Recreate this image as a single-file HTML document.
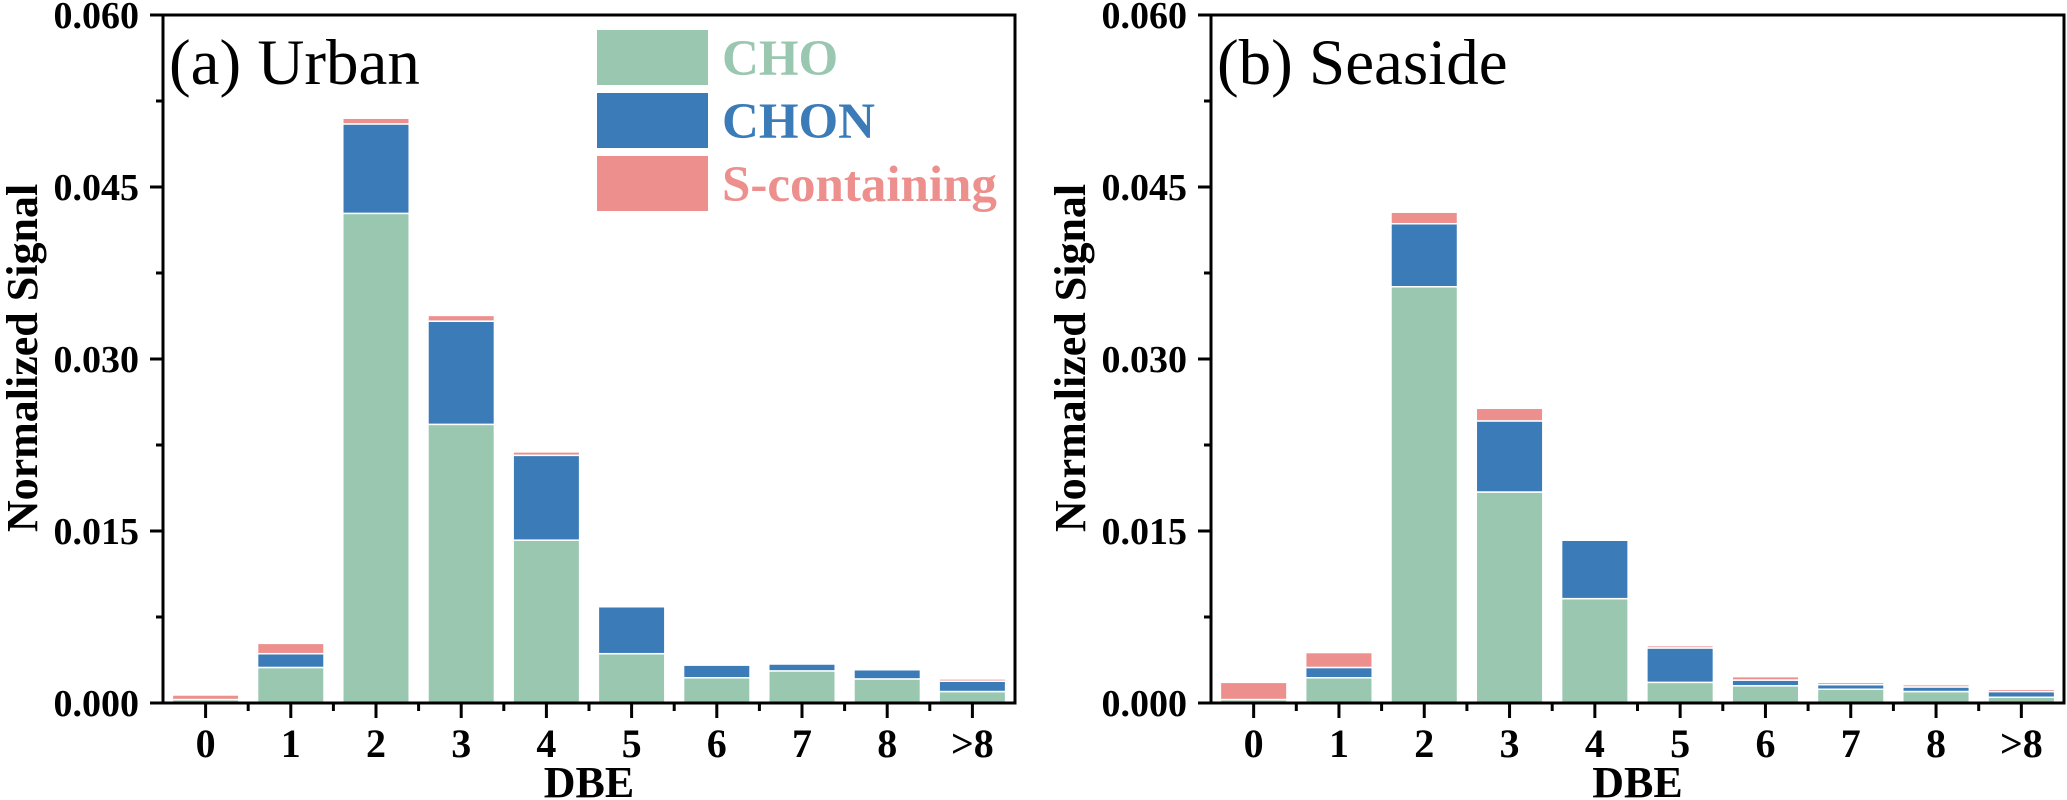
<!DOCTYPE html>
<html><head><meta charset="utf-8"><style>
html,body{margin:0;padding:0;background:#fff;}
svg{display:block;}
svg text{font-family:"Liberation Serif",serif;}
</style></head><body>
<svg id="chart" width="2067" height="800" viewBox="0 0 2067 800" xmlns="http://www.w3.org/2000/svg"></svg>
<script>
const categories = ["0","1","2","3","4","5","6","7","8",">8"];
const yTicks = [0, 0.015, 0.030, 0.045, 0.060];
const yTickLabels = ["0.000","0.015","0.030","0.045","0.060"];
const urbanCHO  = [0.0003,0.0031,0.0427,0.0243,0.0142,0.0043,0.0022,0.0028,0.0021,0.0010];
const urbanCHON = [0.0000,0.0012,0.0078,0.0090,0.0074,0.0041,0.0011,0.0006,0.0008,0.0009];
const urbanS    = [0.0004,0.0009,0.0005,0.0005,0.0003,0.0001,0.0000,0.0000,0.0000,0.0002];
const seaCHO    = [0.0003,0.0022,0.0363,0.0184,0.0091,0.0018,0.0015,0.0012,0.0010,0.0005];
const seaCHON   = [0.0000,0.0009,0.0055,0.0062,0.0051,0.0030,0.0005,0.0004,0.0004,0.0005];
const seaS      = [0.0015,0.0013,0.0010,0.0011,0.0001,0.0002,0.0003,0.0002,0.0002,0.0002];

const NS="http://www.w3.org/2000/svg";
const svg=document.getElementById('chart');
const COLORS={cho:"#99c7b0",chon:"#3a7bb8",s:"#ec8f8d"};
function mk(tag,attrs,parent){const e=document.createElementNS(NS,tag);for(const k in attrs)e.setAttribute(k,attrs[k]);(parent||svg).appendChild(e);return e;}

const TOP=15, BASE=703, YMAX=0.06;
function yScale(v){return BASE-(v/YMAX)*(BASE-TOP);}

function panel(x0,x1,title,cho,chon,s,key){
  const g=mk('g',{});
  
  
  const bw=(x1-x0)/categories.length;
  function xScale(i){return x0+bw*(i+0.5);}
  categories.forEach((c,i)=>{
    const series=[[cho[i],'cho'],[chon[i],'chon'],[s[i],'s']];
    let acc=0;
    series.forEach(([v,n])=>{
      if(v<=0){return;}
      const yTop=yScale(acc+v), yBot=yScale(acc);
      const r=mk('rect',{x:xScale(i)-bw*0.39,y:yTop,width:bw*0.78,height:Math.max(yBot-yTop,1),fill:COLORS[n],stroke:'#fff','stroke-width':1.5},g);
      
      
      acc+=v;
    });
  });
  const fr=mk('path',{d:`M${x0},${BASE} L${x0},${TOP} L${x1},${TOP} L${x1},${BASE} Z`,fill:'none',stroke:'#000','stroke-width':3},g);
  
  
  yTicks.forEach((t,i)=>{
    const y=yScale(t);
    mk('line',{x1:x0-13,x2:x0,y1:y,y2:y,stroke:'#000','stroke-width':3},g);
    if(i<yTicks.length-1){const ym=yScale(t+0.0075);mk('line',{x1:x0-7,x2:x0,y1:ym,y2:ym,stroke:'#000','stroke-width':3},g);}
    const tx=mk('text',{x:x0-24,y:y+13,'text-anchor':'end','font-size':38,'font-weight':'bold'},g);
    tx.textContent=yTickLabels[i];
    
    
  });
  categories.forEach((c,i)=>{
    const x=xScale(i);
    mk('line',{x1:x,x2:x,y1:BASE,y2:BASE+15,stroke:'#000','stroke-width':3},g);
    const xb=x0+bw*i; if(i>0) mk('line',{x1:xb,x2:xb,y1:BASE,y2:BASE+8,stroke:'#000','stroke-width':3},g);
    const tx=mk('text',{x:x,y:757,'text-anchor':'middle','font-size':40,'font-weight':'bold'},g);
    tx.textContent=c;
    
    
  });
  const xt=mk('text',{x:(x0+x1)/2,y:797,'text-anchor':'middle','font-size':44,'font-weight':'bold'},g);
  xt.textContent='DBE';
  
  
  const cy=358, cx=x0-140;
  const yt=mk('text',{x:cx,y:cy,'text-anchor':'middle','font-size':44,'font-weight':'bold',transform:`rotate(-90 ${cx} ${cy})`,dy:14},g);
  yt.textContent='Normalized Signal';
  
  
  const pt=mk('text',{x:x0+6,y:84,'font-size':65},g);
  pt.textContent=title;
  
  
}
panel(163,1015,'(a) Urban',urbanCHO,urbanCHON,urbanS,'urban');
panel(1211,2064,'(b) Seaside',seaCHO,seaCHON,seaS,'seaside');

const legend=[['CHO','cho',30],['CHON','chon',93],['S-containing','s',156]];
legend.forEach(([lab,k,y])=>{
  const r=mk('rect',{x:597,y:y,width:111,height:55,fill:COLORS[k]});
  
  
  const t=mk('text',{x:722,y:y+45,'font-size':51,'font-weight':'bold',fill:COLORS[k]});
  t.textContent=lab;
  
  
});
</script>
</body></html>
